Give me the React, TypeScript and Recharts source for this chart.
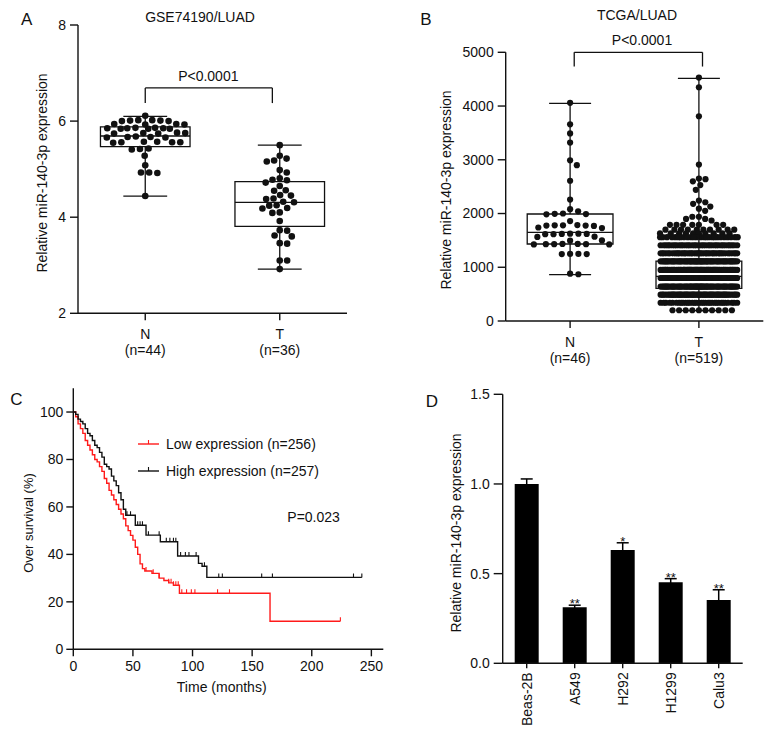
import React, { useMemo } from 'react';
import {
  ComposedChart, Scatter, Line, Bar, ErrorBar, XAxis, YAxis, ReferenceArea, ReferenceLine,
} from 'recharts';

const INK = '#111111';
const RED = '#ff1a1a';
const FONT = '"Liberation Sans", Arial, Helvetica, sans-serif';

// ---- A: GSE74190/LUAD ----
const gseGroups = ['N', 'T'];
const gseCounts = ['(n=44)', '(n=36)'];
const gseNormal = [
  6.11,
  6.02, 6.02, 6.01, 6.01, 6.0, 6.0,
  5.94, 5.94, 5.93, 5.93,
  5.86, 5.86, 5.85, 5.85, 5.85, 5.84, 5.84, 5.84,
  5.76, 5.75, 5.75, 5.74, 5.74,
  5.68, 5.67, 5.67, 5.66, 5.66,
  5.57, 5.57, 5.56, 5.56, 5.56, 5.55,
  5.43, 5.42, 5.41,
  5.28, 5.08, 4.93, 4.93, 4.92, 4.44,
];
const gseTumor = [
  5.5, 5.28, 5.22, 5.18, 5.16, 4.98, 4.93, 4.81, 4.78, 4.77, 4.72, 4.65,
  4.56, 4.55, 4.46, 4.45, 4.39, 4.38, 4.32, 4.31, 4.25, 4.24, 4.19, 4.18,
  4.1, 4.09, 3.92, 3.73, 3.72, 3.62, 3.6, 3.46, 3.45, 3.1, 3.1, 2.92,
];
// min, q1, median, q3, max
const gseNormalBox = [4.44, 5.47, 5.69, 5.88, 6.1];
const gseTumorBox = [2.92, 3.81, 4.31, 4.74, 5.5];

// ---- B: TCGA/LUAD ----
const tcgaGroups = ['N', 'T'];
const tcgaCounts = ['(n=46)', '(n=519)'];
const tcgaNormal = [
  4060, 3660, 3490, 3320, 2990, 2900, 2610, 2260, 2080,
  2040, 2000, 1995, 1990, 1985,
  1860,
  1785, 1780, 1780, 1775, 1775, 1770,
  1740, 1730,
  1625, 1625, 1620, 1620, 1615, 1615,
  1570, 1565,
  1500, 1495,
  1435, 1435, 1430, 1430, 1430, 1425, 1425,
  1250, 1250, 1245, 1245,
  880, 870,
];
// dot rows of the tumour swarm: level and number of dots in that row
const tcgaTumorLevels = [
  4530, 4350, 3810, 2910, 2650, 2640, 2600, 2530, 2440, 2240, 2210, 2180, 2130, 2090, 2050,
  1940, 1900, 1870, 1790, 1700, 1630,
  1560, 1410, 1260, 1110, 950, 800, 640, 490, 340, 200,
];
const tcgaTumorCounts = [
  1, 1, 1, 1, 1, 1, 1, 1, 1, 1, 1, 1, 1, 1, 1,
  2, 2, 1, 7, 10, 10,
  25, 35, 45, 65, 70, 70, 65, 55, 32, 10,
];
const tcgaNormalBox = [862, 1433, 1650, 1991, 4051];
const tcgaTumorBox = [192, 608, 830, 1116, 4516];

// ---- C: survival ----
const lowTimes = [0, 2, 4, 6, 8, 10, 12, 14, 16, 18, 20, 22, 24, 26, 28, 30, 32, 34, 36, 38, 40, 42, 44, 46, 48, 50, 52, 54, 56, 58, 60, 66, 72, 76, 80, 84, 89, 165, 224];
const lowSurv = [100, 98, 95, 93, 91, 88, 86, 84, 82, 80, 79, 77, 75, 72, 70, 67, 65, 63, 61, 59, 57, 55, 52, 50, 48, 46, 43, 40, 36, 34, 33, 32, 30, 29, 28, 27, 23.6, 11.8, 11.8];
const lowCensor = [61, 67, 72, 80, 82, 84, 86, 88, 91, 95, 99, 102, 121, 131, 224];
const highTimes = [0, 2, 4, 6, 8, 10, 12, 14, 16, 18, 20, 22, 24, 26, 28, 30, 32, 34, 36, 38, 40, 42, 44, 52, 61, 73, 87.5, 105, 108, 112, 242];
const highSurv = [100, 99, 97, 96, 95, 93, 91, 90, 88, 86, 85, 83, 81, 78, 77, 76, 73, 71, 69, 66, 63, 59, 56.5, 52.3, 48.1, 45.3, 39.3, 36.2, 35, 30.3, 30.3];
const highCensor = [45, 48, 54, 56, 58, 63, 72, 78, 81, 84, 86, 90, 94, 97, 103, 110, 122, 125, 158, 167, 235, 242];

// ---- D: cell lines ----
const cellLines = ['Beas-2B', 'A549', 'H292', 'H1299', 'Calu3'];
const cellMeans = [1.0, 0.312, 0.632, 0.452, 0.353];
const cellErrors = [0.028, 0.012, 0.04, 0.02, 0.057];
const cellStars = ['', '**', '*', '**', '**'];

// simple beeswarm: offset (px) of each dot from the group centre
function beeswarm(values: number[], pxPerUnit: number, d: number, cap: number) {
  const order = values.map((_, i) => i).sort((a, b) => values[b] - values[a]);
  const placed: { x: number; y: number }[] = [];
  const out: number[] = new Array(values.length).fill(0);
  for (const i of order) {
    const y = values[i] * pxPerUnit;
    let dist = d;
    let chosen: number | null = null;
    while (chosen === null) {
      const near = placed.filter((p) => Math.abs(p.y - y) < dist);
      const cands = [0];
      near.forEach((p) => {
        const dx = Math.sqrt(dist * dist - (p.y - y) * (p.y - y));
        cands.push(p.x + dx, p.x - dx);
      });
      cands.sort((a, b) => Math.abs(a) - Math.abs(b));
      for (const c of cands) {
        if (Math.abs(c) > cap + 1e-6) break;
        if (near.every((p) => (p.x - c) ** 2 + (p.y - y) ** 2 >= dist * dist - 1e-3)) { chosen = c; break; }
      }
      dist *= 0.8;
      if (chosen === null && dist < 0.3) chosen = 0;
    }
    placed.push({ x: chosen, y });
    out[i] = chosen;
  }
  return out;
}

const Caption = ({ x, y, size = 14, rotate = false, left = false, children }: any) => (
  <div
    style={{
      position: 'absolute', left: x, top: y, fontSize: size, lineHeight: 1, whiteSpace: 'nowrap', color: INK,
      transform: `translate(${left ? '0' : '-50%'}, -50%)${rotate ? ' rotate(-90deg)' : ''}`,
    }}
  >
    {children}
  </div>
);

const axisStroke = { stroke: INK, strokeWidth: 1.4 };

function boxParts(pos: number, b: number[], half: number, capHalf: number, key: string) {
  const [lo, q1, med, q3, hi] = b;
  const ln = { stroke: INK, strokeWidth: 1.3, ifOverflow: 'visible' as const };
  return [
    <ReferenceLine key={key + 'w1'} segment={[{ x: pos, y: q3 }, { x: pos, y: hi }]} {...ln} />,
    <ReferenceLine key={key + 'w2'} segment={[{ x: pos, y: lo }, { x: pos, y: q1 }]} {...ln} />,
    <ReferenceLine key={key + 'c1'} segment={[{ x: pos - capHalf, y: lo }, { x: pos + capHalf, y: lo }]} {...ln} />,
    <ReferenceLine key={key + 'c2'} segment={[{ x: pos - capHalf, y: hi }, { x: pos + capHalf, y: hi }]} {...ln} />,
    <ReferenceArea key={key + 'b'} x1={pos - half} x2={pos + half} y1={q1} y2={q3} fill="none" fillOpacity={0} stroke={INK} strokeWidth={1.3} ifOverflow="visible" />,
    <ReferenceLine key={key + 'm'} segment={[{ x: pos - half, y: med }, { x: pos + half, y: med }]} {...ln} />,
  ];
}

const GroupTick = ({ x, y, payload, names, counts }: any) => {
  const i = Math.round(payload.value) - 1;
  return (
    <text x={x} textAnchor="middle" fontSize={14} fill={INK}>
      <tspan x={x} y={y + 16.5}>{names[i]}</tspan>
      <tspan x={x} y={y + 32.5}>{counts[i]}</tspan>
    </text>
  );
};

function SwarmPanel(props: any) {
  const {
    left, top, width, height, axisLeft, axisTop, axisRight, axisBottom, yDomain, yTicks,
    names, counts, groups, boxes, bracket, r, spacing, caps,
  } = props;
  const pxPerUnit = (height - axisTop - axisBottom) / (yDomain[1] - yDomain[0]);
  const points = useMemo(
    () => groups.flatMap((vals: number[], gi: number) => {
      const offs = beeswarm(vals, pxPerUnit, spacing[gi], caps[gi]);
      return vals.map((v, i) => ({ x: gi + 1, y: v, dx: offs[i] }));
    }),
    [],
  );
  const ln = { stroke: INK, strokeWidth: 1.3, ifOverflow: 'visible' as const };
  return (
    <div style={{ position: 'absolute', left, top }}>
      <ComposedChart width={width} height={height} margin={{ top: axisTop, right: axisRight, bottom: 0, left: 0 }}>
        <XAxis
          type="number" dataKey="x" domain={[0.5, 2.5]} ticks={[1, 2]} interval={0} height={axisBottom}
          allowDataOverflow tickSize={7} tickLine={axisStroke} axisLine={axisStroke}
          tick={(p: any) => <GroupTick {...p} names={names} counts={counts} />}
        />
        <YAxis
          type="number" dataKey="y" domain={yDomain} ticks={yTicks} interval={0} width={axisLeft}
          allowDataOverflow tickSize={8} tickMargin={4} tickLine={axisStroke} axisLine={axisStroke}
          tick={{ fill: INK, fontSize: 14 }}
        />
        {boxParts(1, boxes[0], 0.333, 0.163, 'n')}
        {boxParts(2, boxes[1], 0.333, 0.163, 't')}
        <Scatter
          data={points}
          isAnimationActive={false}
          shape={(p: any) => <circle cx={p.cx + p.payload.dx} cy={p.cy} r={r} fill={INK} />}
        />
        <ReferenceLine segment={[{ x: bracket.x1, y: bracket.foot }, { x: bracket.x1, y: bracket.top }]} {...ln} />
        <ReferenceLine segment={[{ x: bracket.x1, y: bracket.top }, { x: bracket.x2, y: bracket.top }]} {...ln} />
        <ReferenceLine segment={[{ x: bracket.x2, y: bracket.top }, { x: bracket.x2, y: bracket.foot }]} {...ln} />
      </ComposedChart>
    </div>
  );
}

const stepAt = (times: number[], surv: number[], t: number) => {
  let s = surv[0];
  times.forEach((tt, i) => { if (tt <= t) s = surv[i]; });
  return s;
};

const censorShape = (color: string) => (p: any) => (
  <line x1={p.cx} y1={p.cy} x2={p.cx} y2={p.cy - 4} stroke={color} strokeWidth={1.1} />
);

function SurvivalPanel() {
  const lowCurve = lowTimes.map((t, i) => ({ t, s: lowSurv[i] }));
  const highCurve = highTimes.map((t, i) => ({ t, s: highSurv[i] }));
  const lowMarks = lowCensor.map((t) => ({ t, s: stepAt(lowTimes, lowSurv, t) }));
  const highMarks = highCensor.map((t) => ({ t, s: stepAt(highTimes, highSurv, t) }));
  return (
    <div style={{ position: 'absolute', left: 0, top: 370 }}>
      <ComposedChart width={390} height={367} margin={{ top: 18.3, right: 6.7, bottom: 0, left: 0 }}>
        <XAxis
          type="number" dataKey="t" domain={[0, 260]} ticks={[0, 50, 100, 150, 200, 250]} interval={0}
          height={87.7} tickSize={7} tickMargin={5} allowDataOverflow
          tickLine={axisStroke} axisLine={axisStroke} tick={{ fill: INK, fontSize: 14 }}
        />
        <YAxis
          type="number" dataKey="s" domain={[0, 110]} ticks={[0, 20, 40, 60, 80, 100]} interval={0}
          width={73.3} tickSize={7} tickMargin={3} allowDataOverflow
          tickLine={axisStroke} axisLine={axisStroke} tick={{ fill: INK, fontSize: 14 }}
        />
        <Line data={lowCurve} dataKey="s" type="stepAfter" stroke={RED} strokeWidth={1.4} dot={false} isAnimationActive={false} />
        <Line data={highCurve} dataKey="s" type="stepAfter" stroke={INK} strokeWidth={1.4} dot={false} isAnimationActive={false} />
        <Scatter data={lowMarks} dataKey="s" shape={censorShape(RED)} isAnimationActive={false} />
        <Scatter data={highMarks} dataKey="s" shape={censorShape(INK)} isAnimationActive={false} />
      </ComposedChart>
    </div>
  );
}

const CellTick = ({ x, y, payload }: any) => (
  <text x={x} y={y} transform={`rotate(-90 ${x} ${y})`} textAnchor="end" dominantBaseline="central" fontSize={14} fill={INK}>
    {payload.value}
  </text>
);

function CellPanel() {
  const rows = cellLines.map((name, i) => ({
    name, mean: cellMeans[i], err: cellErrors[i], top: cellMeans[i] + cellErrors[i], star: cellStars[i],
  }));
  return (
    <div style={{ position: 'absolute', left: 390, top: 370 }}>
      <ComposedChart width={384} height={367} data={rows} margin={{ top: 24.3, right: 31.3, bottom: 0, left: 0 }}>
        <XAxis
          dataKey="name" type="category" interval={0} height={73.7} tickSize={5} tickMargin={4}
          tickLine={axisStroke} axisLine={axisStroke} tick={CellTick}
        />
        <YAxis
          type="number" domain={[0, 1.5]} ticks={[0, 0.5, 1, 1.5]} interval={0} width={112.7}
          tickSize={9} tickMargin={4} allowDataOverflow tickFormatter={(v: number) => v.toFixed(1)}
          tickLine={axisStroke} axisLine={axisStroke} tick={{ fill: INK, fontSize: 14 }}
        />
        <Bar dataKey="mean" fill="#000000" barSize={24} isAnimationActive={false}>
          <ErrorBar dataKey="err" width={6} stroke="#000000" strokeWidth={1.5} direction="y" />
        </Bar>
        <Scatter
          dataKey="top" isAnimationActive={false}
          shape={(p: any) => (
            <text x={p.cx} y={p.cy + 3} textAnchor="middle" fontSize={13} fill={INK}>{p.payload.star}</text>
          )}
        />
      </ComposedChart>
    </div>
  );
}

export default function App() {
  const tcgaTumor = tcgaTumorLevels.flatMap((v, i) => new Array(tcgaTumorCounts[i]).fill(v));
  return (
    <div style={{ position: 'absolute', left: 0, top: 0, width: 774, height: 737, background: '#fff', fontFamily: FONT, overflow: 'hidden' }}>
      <SwarmPanel
        left={0} top={0} width={390} height={370}
        axisLeft={78} axisTop={25} axisRight={43} axisBottom={56.7}
        yDomain={[2, 8]} yTicks={[2, 4, 6, 8]}
        names={gseGroups} counts={gseCounts}
        groups={[gseNormal, gseTumor]} boxes={[gseNormalBox, gseTumorBox]}
        bracket={{ x1: 1, x2: 1.945, top: 6.69, foot: 6.375 }}
        r={3.3} spacing={[8.2, 7.4]} caps={[40, 30]}
      />
      <SwarmPanel
        left={390} top={0} width={384} height={370}
        axisLeft={115.7} axisTop={52.3} axisRight={10.7} axisBottom={49}
        yDomain={[0, 5000]} yTicks={[0, 1000, 2000, 3000, 4000, 5000]}
        names={tcgaGroups} counts={tcgaCounts}
        groups={[tcgaNormal, tcgaTumor]} boxes={[tcgaNormalBox, tcgaTumorBox]}
        bracket={{ x1: 1.032, x2: 2.028, top: 5000, foot: 4735 }}
        r={3.1} spacing={[8.3, 6.6]} caps={[40, 39]}
      />
      <SurvivalPanel />
      <CellPanel />

      <Caption x={26.7} y={18.5} size={17}>A</Caption>
      <Caption x={200} y={17}>GSE74190/LUAD</Caption>
      <Caption x={208.3} y={76}>P&lt;0.0001</Caption>
      <Caption x={41.7} y={173.3} rotate>Relative miR-140-3p expression</Caption>

      <Caption x={425.8} y={19.2} size={17}>B</Caption>
      <Caption x={637} y={15}>TCGA/LUAD</Caption>
      <Caption x={642} y={40}>P&lt;0.0001</Caption>
      <Caption x={446} y={190} rotate>Relative miR-140-3p expression</Caption>

      <Caption x={16.3} y={399} size={17}>C</Caption>
      <Caption x={28.3} y={522.5} size={13} rotate>Over survival (%)</Caption>
      <Caption x={221.7} y={686.7}>Time (months)</Caption>
      <Caption x={287.3} y={516.7} left>P=0.023</Caption>
      <svg style={{ position: 'absolute', left: 130, top: 435 }} width={40} height={45}>
        <line x1={8} y1={9} x2={29} y2={9} stroke={RED} strokeWidth={1.4} />
        <line x1={18.5} y1={9} x2={18.5} y2={5} stroke={RED} strokeWidth={1.1} />
        <line x1={8} y1={36} x2={29} y2={36} stroke={INK} strokeWidth={1.4} />
        <line x1={18.5} y1={36} x2={18.5} y2={32} stroke={INK} strokeWidth={1.1} />
      </svg>
      <Caption x={166} y={444} left>Low expression (n=256)</Caption>
      <Caption x={166} y={471} left>High expression (n=257)</Caption>

      <Caption x={432} y={400.8} size={17}>D</Caption>
      <Caption x={455.5} y={532.5} rotate>Relative miR-140-3p expression</Caption>
    </div>
  );
}
